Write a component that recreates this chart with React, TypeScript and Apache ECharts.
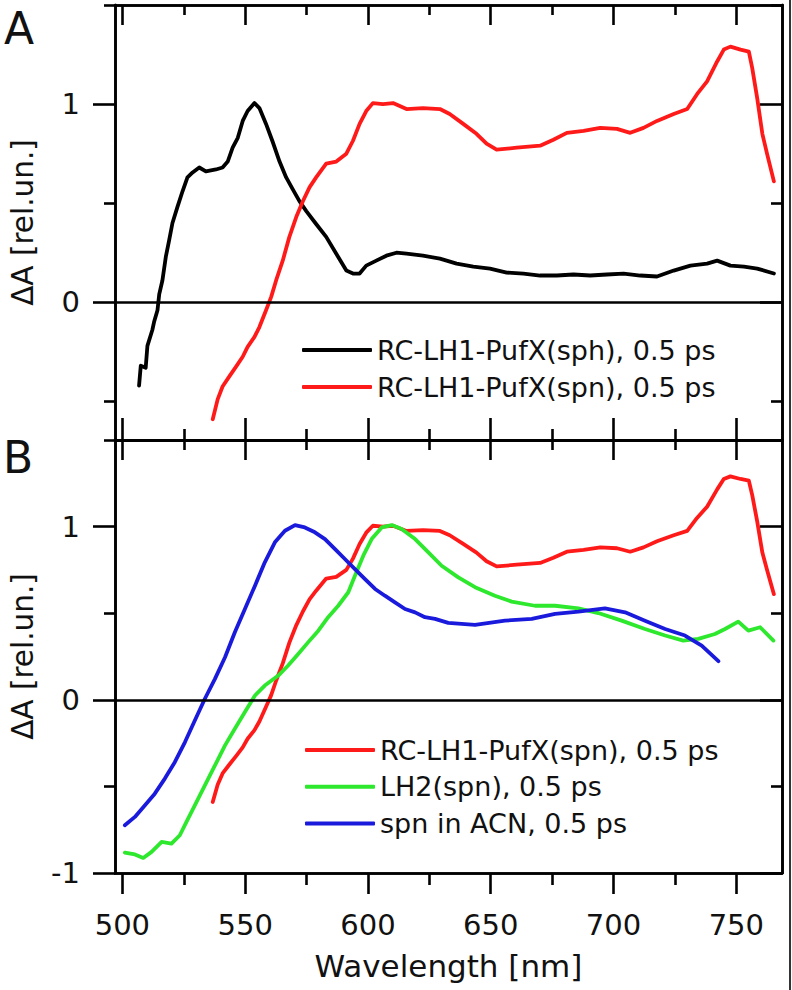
import React, { useEffect, useRef } from 'react';
import * as echarts from 'echarts';

// ---------- data ----------
const nameSph = 'RC-LH1-PufX(sph), 0.5 ps';
const nameSpn = 'RC-LH1-PufX(spn), 0.5 ps';
const nameLH2 = 'LH2(spn), 0.5 ps';
const nameACN = 'spn in ACN, 0.5 ps';

const sphWl = [506.8, 507.5, 509.5, 510.2, 512.2, 512.9, 514.3, 515, 516.3, 517.7, 519, 520.4, 522.4, 524.5, 526.5, 528.6, 531.3, 534, 538.1, 540.8, 542.9, 544.9, 547, 549, 551, 553.8, 555.8, 558.5, 561.2, 564, 566.7, 569.4, 572.1, 574.9, 578.9, 583, 587.1, 591.2, 593.9, 596.6, 599.3, 603.4, 607.5, 611.6, 615.7, 622.4, 629.3, 636.1, 642.9, 649.7, 656.5, 663.3, 670.1, 676.9, 683.7, 690.5, 697.3, 704.1, 710.9, 717.7, 724.5, 731.3, 738.1, 742.2, 747.6, 753.1, 758.5, 765.3];
const sphVal = [-0.42, -0.32, -0.33, -0.22, -0.14, -0.10, -0.04, 0.04, 0.11, 0.23, 0.31, 0.40, 0.48, 0.56, 0.63, 0.655, 0.68, 0.66, 0.67, 0.68, 0.71, 0.78, 0.83, 0.915, 0.965, 1.005, 0.98, 0.90, 0.81, 0.71, 0.63, 0.57, 0.51, 0.46, 0.395, 0.33, 0.245, 0.16, 0.145, 0.145, 0.185, 0.21, 0.235, 0.25, 0.245, 0.235, 0.22, 0.195, 0.18, 0.17, 0.15, 0.145, 0.135, 0.135, 0.14, 0.135, 0.14, 0.145, 0.135, 0.13, 0.16, 0.185, 0.195, 0.21, 0.185, 0.18, 0.17, 0.145];

const spnWl = [536.8, 538.8, 540.8, 543.5, 546.3, 549, 551, 553.8, 555.8, 558.5, 560.6, 562.6, 565.3, 568, 570.8, 573.5, 576.2, 578.9, 583, 587.1, 591.2, 593.9, 596.6, 599.3, 602, 606.1, 610.2, 615.7, 622.4, 629.3, 633.3, 638.8, 644.2, 648.3, 652.4, 660.6, 670.1, 675.5, 681, 687.8, 694.6, 701.4, 706.8, 712.2, 717.7, 724.5, 730, 734, 738.1, 742.2, 744.9, 747.6, 751.7, 755.1, 756.5, 758.5, 760.6, 762.6, 765.3];
const spnVal = [-0.59, -0.49, -0.425, -0.375, -0.325, -0.275, -0.225, -0.175, -0.125, -0.04, 0.027, 0.11, 0.21, 0.33, 0.43, 0.51, 0.58, 0.63, 0.70, 0.71, 0.75, 0.815, 0.90, 0.965, 1.005, 1.0, 1.005, 0.975, 0.98, 0.975, 0.95, 0.90, 0.85, 0.80, 0.77, 0.78, 0.79, 0.82, 0.855, 0.865, 0.88, 0.875, 0.855, 0.88, 0.915, 0.95, 0.975, 1.05, 1.115, 1.215, 1.275, 1.29, 1.275, 1.265, 1.18, 1.03, 0.85, 0.745, 0.61];

const lh2Wl = [501.0, 505.1, 508.5, 511.9, 516, 520, 523.4, 526.1, 529.5, 533.6, 537.7, 541.8, 545.8, 549.9, 554, 558, 563.5, 567.5, 571.6, 575.7, 579.8, 583.8, 587.9, 592, 594.7, 598.1, 601.5, 605.6, 609.7, 613.7, 619.2, 624.6, 630, 636.8, 643.6, 651.7, 658.5, 668, 676.2, 685.7, 693.8, 703.3, 712.8, 721, 728.4, 734.5, 741.3, 745.4, 750.8, 754.9, 759.7, 765.1];
const lh2Val = [-0.882, -0.893, -0.913, -0.878, -0.820, -0.830, -0.782, -0.705, -0.609, -0.494, -0.379, -0.263, -0.167, -0.071, 0.025, 0.082, 0.140, 0.198, 0.265, 0.333, 0.399, 0.477, 0.543, 0.621, 0.716, 0.832, 0.928, 0.995, 1.009, 0.986, 0.928, 0.851, 0.774, 0.707, 0.650, 0.601, 0.567, 0.543, 0.543, 0.528, 0.501, 0.457, 0.409, 0.371, 0.342, 0.352, 0.380, 0.409, 0.451, 0.399, 0.419, 0.342];

const acnWl = [501.0, 505.1, 509.2, 513.2, 517.3, 521.4, 525.5, 529.5, 533.6, 537.7, 541.8, 545.8, 549.9, 554, 558, 562.1, 566.2, 570.3, 574.3, 578.4, 582.5, 586.6, 590.6, 594.7, 598.8, 602.9, 606.9, 611, 615.1, 619.2, 623.2, 627.3, 632.7, 643.6, 655.8, 666.7, 676.2, 685.7, 696.5, 704.7, 712.8, 721, 729.1, 735.9, 742.7];
const acnVal = [-0.724, -0.676, -0.609, -0.542, -0.455, -0.359, -0.244, -0.119, 0.006, 0.121, 0.246, 0.390, 0.524, 0.659, 0.794, 0.909, 0.976, 1.009, 0.995, 0.967, 0.928, 0.870, 0.813, 0.755, 0.697, 0.640, 0.601, 0.563, 0.524, 0.505, 0.477, 0.467, 0.444, 0.432, 0.457, 0.467, 0.496, 0.509, 0.528, 0.505, 0.457, 0.409, 0.371, 0.313, 0.223];

const xMajorTicks = [500, 550, 600, 650, 700, 750];
const xMinorTicks = [525, 575, 625, 675, 725];
const yMajorA = [0, 1];
const yMinorA = [-0.5, 0.5, 1.5];
const yMajorB = [-1, 0, 1];
const yMinorB = [-0.5, 0.5, 1.5];

const FONT = 'DejaVu Sans';
const TXT = '#111';

const pairs = (x: number[], y: number[]) => x.map((v, i) => [v, y[i]]);

export default function App() {
  const ref = useRef<HTMLDivElement>(null);
  useEffect(() => {
    const chart = echarts.init(ref.current!, null, { renderer: 'svg' });
    const xMin = 497;
    const xMax = 768.6;
    const axLine = { show: true, onZero: false, lineStyle: { color: '#000', width: 2.6 } };
    const mkX = (grid: number, pos: string, values: number[], len: number, inside: boolean, extra: any = {}) => ({
      type: 'value', gridIndex: grid, position: pos, min: xMin, max: xMax,
      axisLine: axLine,
      axisTick: { show: true, inside, length: len, customValues: values, lineStyle: { color: '#000', width: 2.6 } },
      axisLabel: { show: false },
      splitLine: { show: false },
      ...extra,
    });
    const mkY = (grid: number, pos: string, min: number, max: number, values: number[], len: number, inside: boolean, extra: any = {}) => ({
      type: 'value', gridIndex: grid, position: pos, min, max,
      axisLine: axLine,
      axisTick: { show: true, inside, length: len, customValues: values, lineStyle: { color: '#000', width: 2.6 } },
      axisLabel: { show: false },
      splitLine: { show: false },
      ...extra,
    });
    const yName = {
      name: 'ΔA [rel.un.]', nameLocation: 'middle', nameGap: 77,
      nameTextStyle: { fontFamily: FONT, fontSize: 29.5, color: TXT },
    };
    const yLab = (vals: number[]) => ({
      axisLabel: { show: true, customValues: vals, margin: 35, fontFamily: FONT, fontSize: 29, color: TXT },
    });
    const zeroLine = {
      silent: true, symbol: ['none', 'none'], label: { show: false },
      lineStyle: { color: '#000', width: 2.6, type: 'solid' },
      data: [{ yAxis: 0 }],
    };
    const lineSeries = (name: string, data: number[][], color: string, xi: number, yi: number, extra: any = {}) => ({
      type: 'line', name, data, xAxisIndex: xi, yAxisIndex: yi,
      showSymbol: false, symbol: 'none', smooth: false,
      lineStyle: { color, width: 3.8, join: 'round', cap: 'round' }, itemStyle: { color },
      ...extra,
    });
    const legendCommon = {
      orient: 'vertical', itemWidth: 70, itemHeight: 4, padding: 0, selectedMode: false,
      icon: 'roundRect',
      textStyle: { fontFamily: FONT, fontSize: 27, color: TXT, lineHeight: 27 },
    };
    chart.setOption({
      animation: false,
      backgroundColor: '#fff',
      grid: [
        { left: 115, right: 10, top: 5, height: 435 },
        { left: 115, right: 10, top: 440, height: 433 },
      ],
      xAxis: [
        mkX(0, 'top', xMajorTicks, 20, true),
        mkX(0, 'top', xMinorTicks, 10, true),
        mkX(0, 'bottom', xMajorTicks, 22, true),
        mkX(0, 'bottom', xMinorTicks, 11, true),
        mkX(1, 'top', xMajorTicks, 20, true),
        mkX(1, 'top', xMinorTicks, 10, true),
        mkX(1, 'bottom', xMajorTicks, 21, false, {
          axisLabel: { show: true, customValues: xMajorTicks, margin: 37, fontFamily: FONT, fontSize: 29, color: TXT },
          name: 'Wavelength [nm]', nameLocation: 'middle', nameGap: 77,
          nameTextStyle: { fontFamily: FONT, fontSize: 31, color: TXT },
        }),
        mkX(1, 'bottom', xMinorTicks, 12, false),
      ],
      yAxis: [
        mkY(0, 'left', -0.695, 1.5, yMajorA, 22, false, { ...yLab(yMajorA), ...yName }),
        mkY(0, 'left', -0.695, 1.5, yMinorA, 11, false),
        mkY(0, 'right', -0.695, 1.5, yMajorA, 22, true),
        mkY(0, 'right', -0.695, 1.5, yMinorA, 11, true),
        mkY(1, 'left', -1, 1.5, yMajorB, 22, false, { ...yLab(yMajorB), ...yName }),
        mkY(1, 'left', -1, 1.5, yMinorB, 11, false),
        mkY(1, 'right', -1, 1.5, yMajorB, 22, true),
        mkY(1, 'right', -1, 1.5, yMinorB, 11, true),
      ],
      legend: [
        { ...legendCommon, data: [nameSph, nameSpn], left: 302, top: 336.5, itemGap: 10 },
        { ...legendCommon, data: [nameSpn, nameLH2, nameACN], left: 305, top: 736.5, itemGap: 9.7 },
      ],
      series: [
        lineSeries(nameSph, pairs(sphWl, sphVal), '#000000', 0, 0, { markLine: zeroLine }),
        lineSeries(nameSpn, pairs(spnWl, spnVal), '#ff1a1a', 0, 0),
        lineSeries(nameSpn, pairs(spnWl, spnVal), '#ff1a1a', 4, 4, { markLine: zeroLine }),
        lineSeries(nameLH2, pairs(lh2Wl, lh2Val), '#2ee82e', 4, 4),
        lineSeries(nameACN, pairs(acnWl, acnVal), '#1a1adc', 4, 4),
      ],
      graphic: [
        { type: 'text', left: 4, top: 6, style: { text: 'A', fontFamily: FONT, fontSize: 44, fill: TXT } },
        { type: 'text', left: 3, top: 435, style: { text: 'B', fontFamily: FONT, fontSize: 44, fill: TXT } },
        { type: 'line', shape: { x1: 790, y1: 0, x2: 790, y2: 990 }, style: { stroke: '#333', lineWidth: 2 } },
      ],
    });
    return () => chart.dispose();
  }, []);
  return <div ref={ref} style={{ position: 'absolute', left: 0, top: 0, width: 792, height: 990 }} />;
}
